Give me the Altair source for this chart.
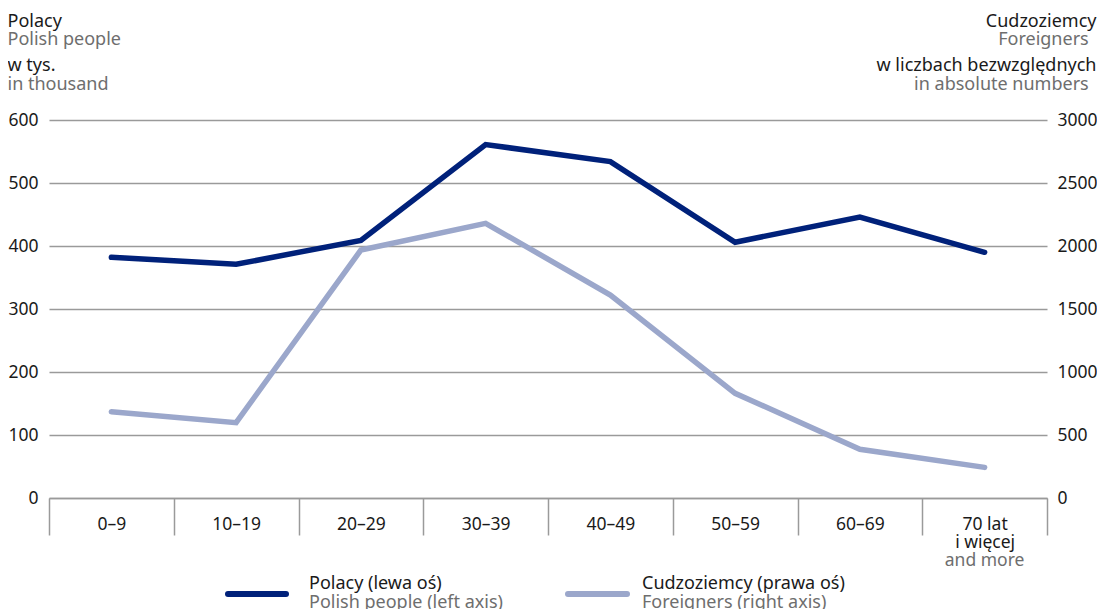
import altair as alt
import pandas as pd

FONT = "Noto Sans"
BLACK = "#1a1a1a"
GRAY = "#6e6e6e"
GRID = "#9a9a9a"
DARK = "#00217a"
LIGHT = "#9ba7cb"

AGES = ["0–9", "10–19", "20–29", "30–39", "40–49", "50–59", "60–69", "70+"]
POLISH = [382, 371, 409, 561, 534, 406, 446, 390]          # thousand
FOREIGN = [685, 598, 1968, 2180, 1611, 831, 387, 243]      # absolute numbers

LEFT_TICKS = [0, 100, 200, 300, 400, 500, 600]
RIGHT_TICKS = [0, 500, 1000, 1500, 2000, 2500, 3000]

df = pd.DataFrame({"age": AGES, "polish": POLISH, "foreign": FOREIGN})

W, H = 998, 378

xscale = alt.Scale(type="band", domain=AGES, paddingInner=0, paddingOuter=0)
xaxis = alt.Axis(
    orient="bottom", title=None, tickBand="extent", tickSize=37, tickColor=GRID,
    tickWidth=1.5, domain=True, domainColor=GRID, domainWidth=1.5, grid=False,
    labelPadding=-6, labelBaseline="alphabetic", labelAngle=0, labelFontSize=17.5,
    labelFont=FONT, labelColor=BLACK, labelLineHeight=18.3, labelOverlap=False,
    labelFlush=False,
    labelExpr="datum.value == '70+' ? ['70 lat', 'i więcej'] : datum.value",
)

base = alt.Chart(df)

polish_line = base.mark_line(color=DARK, strokeWidth=5.5, strokeCap="round").encode(
    x=alt.X("age:N", scale=xscale, axis=xaxis, sort=AGES, bandPosition=0.5),
    y=alt.Y("polish:Q", scale=alt.Scale(domain=[0, 600], nice=False),
            axis=alt.Axis(orient="left", title=None, values=LEFT_TICKS, grid=True,
                          gridColor=GRID, gridWidth=1.5, ticks=False, domain=False,
                          labelPadding=11, labelFontSize=17.5, labelFont=FONT,
                          labelColor=BLACK, format="d")),
)

foreign_line = base.mark_line(color=LIGHT, strokeWidth=5.5, strokeCap="round").encode(
    x=alt.X("age:N", scale=xscale, axis=xaxis, sort=AGES, bandPosition=0.5),
    y=alt.Y("foreign:Q", scale=alt.Scale(domain=[0, 3000], nice=False),
            axis=alt.Axis(orient="right", title=None, values=RIGHT_TICKS, grid=False,
                          ticks=False, domain=False, labelPadding=10,
                          labelFontSize=17.5, labelFont=FONT, labelColor=BLACK,
                          labelAlign="left", format="d")),
)

more_df = pd.DataFrame({"age": ["70+"], "t": ["and more"]})
and_more = alt.Chart(more_df).mark_text(
    font=FONT, fontSize=17.5, color=GRAY, baseline="alphabetic", align="center"
).encode(
    x=alt.X("age:N", scale=xscale, axis=xaxis, sort=AGES, bandPosition=0.5),
    y=alt.value(446),
    text="t:N",
)


def label(txt, x, y, color, align="left", size=18):
    return alt.Chart(pd.DataFrame({"t": [txt]})).mark_text(
        font=FONT, fontSize=size, color=color, align=align, baseline="alphabetic"
    ).encode(x=alt.value(x), y=alt.value(y), text="t:N")


def swatch(x1, x2, y, color):
    return alt.Chart(pd.DataFrame({"t": [0]})).mark_rule(
        color=color, strokeWidth=6, strokeCap="round"
    ).encode(x=alt.value(x1), x2=alt.value(x2), y=alt.value(y))


annotations = [
    label("Polacy", -41.5, -93.3, BLACK),
    label("Polish people", -41.5, -75.5, GRAY),
    label("w tys.", -41.5, -49.3, BLACK),
    label("in thousand", -41.5, -30, GRAY),
    label("Cudzoziemcy", 1047.5, -93.3, BLACK, align="right"),
    label("Foreigners", 1039.7, -75.5, GRAY, align="right"),
    label("w liczbach bezwzględnych", 1047.5, -49.3, BLACK, align="right"),
    label("in absolute numbers", 1039.7, -30, GRAY, align="right"),
    swatch(179, 237, 474, DARK),
    label("Polacy (lewa oś)", 260, 469.3, BLACK),
    label("Polish people (left axis)", 260, 487.5, GRAY),
    swatch(519, 578, 474, LIGHT),
    label("Cudzoziemcy (prawa oś)", 593, 469.3, BLACK),
    label("Foreigners (right axis)", 593, 487.5, GRAY),
]

chart = alt.layer(
    foreign_line, polish_line, and_more, *annotations
).resolve_scale(y="independent").properties(
    width=W, height=H,
    autosize=alt.AutoSizeParams(type="none"),
    padding={"left": 41, "top": 112, "right": 50, "bottom": 111},
    background="white",
).configure_view(stroke=None)

chart.save("out.html", embed_options={"renderer": "svg", "actions": False})
